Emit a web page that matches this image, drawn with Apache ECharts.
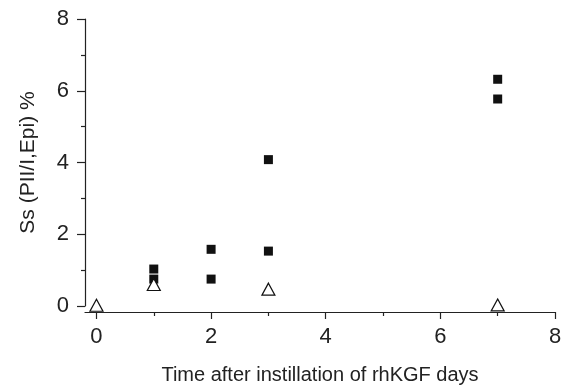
<!DOCTYPE html>
<html><head><meta charset="utf-8">
<script src="https://cdn.jsdelivr.net/npm/echarts@6/dist/echarts.min.js"></script>
<style>html,body{margin:0;padding:0;background:#fff}#c{width:571px;height:390px}</style>
</head><body><div id="c"></div>
<script>
const xMajorTicks = [0, 2, 4, 6, 8];
const xMinorTicks = [1, 3, 5, 7];
const kgfGroup = [[1, 1.03], [1, 0.75], [2, 1.58], [2, 0.75], [3, 4.08], [3, 1.53], [7, 6.32], [7, 5.77]];
const controlGroup = [[0, 0.02], [1, 0.6], [3, 0.47], [7, 0.03]];
const xTitle = 'Time after instillation of rhKGF days';
const yTitle = 'Ss (PII/I,Epi) %';

const FONT = '"Liberation Sans Narrow", "Liberation Sans", Arial, sans-serif';
const ink = '#222';
const chart = echarts.init(document.getElementById('c'), null, {renderer: 'canvas'});
const baseX = {
  type: 'value', min: -0.2, max: 8, position: 'bottom', offset: 6,
  splitLine: {show: false}
};
chart.setOption({
  animation: false,
  grid: {left: 85, right: 16, top: 19, bottom: 83, containLabel: false},
  xAxis: [
    Object.assign({}, baseX, {
      name: xTitle, nameLocation: 'middle', nameGap: 53,
      nameTextStyle: {fontFamily: FONT, fontSize: 20, color: ink},
      axisLine: {show: true, onZero: false, lineStyle: {color: ink, width: 1.2}},
      axisTick: {show: true, length: 7, customValues: xMajorTicks, lineStyle: {color: ink, width: 1.2}},
      axisLabel: {show: true, customValues: xMajorTicks, margin: 14, fontFamily: FONT, fontSize: 22, color: ink}
    }),
    Object.assign({}, baseX, {
      axisLine: {show: false, onZero: false},
      axisTick: {show: true, length: 4, customValues: xMinorTicks, lineStyle: {color: ink, width: 1.2}},
      axisLabel: {show: false}
    })
  ],
  yAxis: {
    type: 'value', min: 0, max: 8, interval: 2,
    name: yTitle, nameLocation: 'middle', nameGap: 46, nameRotate: 90,
    nameTextStyle: {fontFamily: FONT, fontSize: 21, color: ink},
    axisLine: {show: true, onZero: false, lineStyle: {color: ink, width: 1.2}},
    axisTick: {show: true, length: 8, lineStyle: {color: ink, width: 1.2}},
    minorTick: {show: true, splitNumber: 2, length: 4, lineStyle: {color: ink, width: 1.2}},
    axisLabel: {margin: 16, fontFamily: FONT, fontSize: 22, color: ink},
    splitLine: {show: false}
  },
  series: [
    {type: 'scatter', data: kgfGroup, symbol: 'rect', symbolSize: 9,
     itemStyle: {color: '#111', opacity: 1}},
    {type: 'scatter', data: controlGroup, symbol: 'triangle', symbolSize: [13, 12],
     itemStyle: {color: '#fff', borderColor: '#111', borderWidth: 1.2, opacity: 1}}
  ]
});
</script></body></html>
